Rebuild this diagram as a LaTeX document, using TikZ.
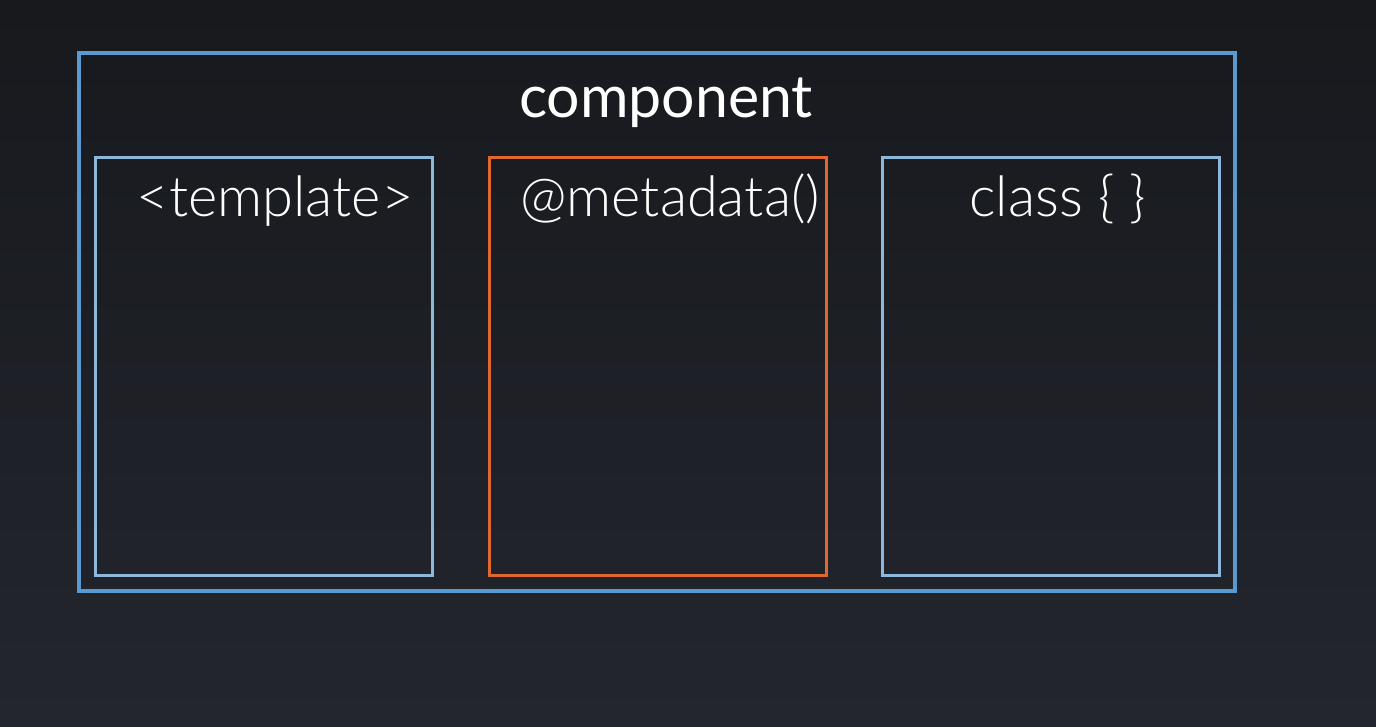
\documentclass[tikz,border=0pt]{standalone}
\usepackage{fontspec}
\setmainfont{Lato}
\newfontfamily\lightfont{Lato Light}
\definecolor{bgtop}{HTML}{17191D}
\definecolor{bgbot}{HTML}{23262E}
\definecolor{outerblue}{HTML}{5A9AD0}
\definecolor{innerblue}{HTML}{8CB8DC}
\definecolor{orangeline}{HTML}{E0682C}
\tikzset{
  outerbox/.style={draw=outerblue, line width=3.5pt},
  innerbox/.style={draw=innerblue, line width=3pt},
  metabox/.style={draw=orangeline, line width=3pt},
  heading/.style={text=white, font=\fontsize{59}{64}\selectfont, anchor=base},
  boxlabel/.style={text=white, font=\lightfont\fontsize{56}{60}\selectfont, anchor=base}
}
\begin{document}
\begin{tikzpicture}[x=1pt,y=-1pt]
\shade[top color=bgtop, bottom color=bgbot] (0,0) rectangle (1376,726);
\useasboundingbox (0,0) rectangle (1376,726);
\draw[outerbox] (79,53) rectangle (1235,591);
\draw[innerbox] (95,157) rectangle (432,575);
\draw[metabox] (489,157) rectangle (826,575);
\draw[innerbox] (882,157) rectangle (1219,575);
\node[heading] (comp) at (666,117) {component};
\node[boxlabel] (tpl) at (275,216) {<template>};
\node[boxlabel] (meta) at (670,216) {@metadata()};
\node[boxlabel] (cls) at (1058,216) {class \{ \}};
\end{tikzpicture}
\end{document}
